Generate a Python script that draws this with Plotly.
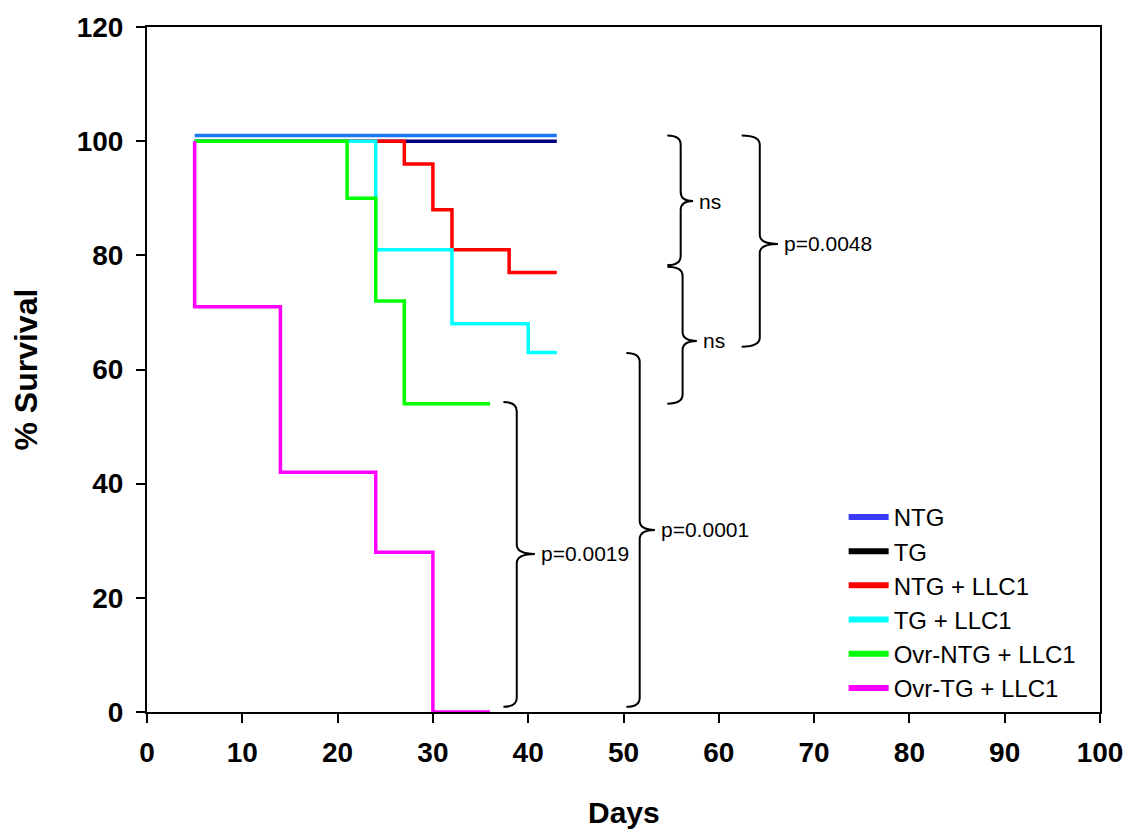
import plotly.graph_objects as go

# ---- data (step survival curves) ----
ntg_days = [5, 43]
ntg_surv = [101, 101]
tg_days = [5, 43]
tg_surv = [100, 100]
ntg_llc_days = [5, 27, 30, 32, 38, 43]
ntg_llc_surv = [100, 96, 88, 81, 77, 77]
tg_llc_days = [5, 24, 32, 40, 43]
tg_llc_surv = [100, 81, 68, 63, 63]
ovr_ntg_days = [5, 21, 24, 27, 36]
ovr_ntg_surv = [100, 90, 72, 54, 54]
ovr_tg_days = [5, 5, 14, 24, 30, 36]
ovr_tg_surv = [100, 71, 42, 28, 0, 0]

series_names = ["NTG", "TG", "NTG + LLC1", "TG + LLC1", "Ovr-NTG + LLC1", "Ovr-TG + LLC1"]
line_colors = ["#1a78f5", "#000080", "#ff0000", "#00ffff", "#00ff00", "#ff00ff"]
legend_colors = ["#3a3aff", "#000000", "#ff0000", "#00ffff", "#00ff00", "#ff00ff"]

# brackets: (y_top, y_bottom, x_end, x_vertical, x_tip, y_tip, label)
bracket_ytop = [101, 78, 101, 54.3, 62.9]
bracket_ybot = [78.3, 54, 64, 0.9, 0.9]
bracket_xend = [54.6, 54.6, 62.4, 37.4, 50.3]
bracket_xv = [56.0, 56.2, 64.3, 38.8, 51.7]
bracket_xtip = [57.3, 57.7, 66.2, 40.7, 53.3]
bracket_ytip = [89.5, 65.0, 82.0, 27.7, 31.9]
bracket_labels = ["ns", "ns", "p=0.0048", "p=0.0019", "p=0.0001"]

x_ticks = list(range(0, 101, 10))
y_ticks = list(range(0, 121, 20))

FONT = "Liberation Sans, Arial, sans-serif"

fig = go.Figure()

all_days = [ntg_days, tg_days, ntg_llc_days, tg_llc_days, ovr_ntg_days, ovr_tg_days]
all_surv = [ntg_surv, tg_surv, ntg_llc_surv, tg_llc_surv, ovr_ntg_surv, ovr_tg_surv]

draw_order = [1, 0, 2, 3, 4, 5]
for i in draw_order:
    fig.add_trace(go.Scatter(
        x=all_days[i], y=all_surv[i], mode="lines",
        line=dict(color=line_colors[i], width=3.5, shape="hv"),
        showlegend=False, hoverinfo="skip"))

for i, name in enumerate(series_names):
    fig.add_trace(go.Scatter(
        x=[None], y=[None], mode="lines", name=name,
        line=dict(color=legend_colors[i], width=6)))

r = 1.6
for yt, yb, xe, xv, xt, ym, lab in zip(bracket_ytop, bracket_ybot, bracket_xend,
                                       bracket_xv, bracket_xtip, bracket_ytip, bracket_labels):
    path = (f"M {xe},{yt} Q {xv},{yt} {xv},{yt - r} "
            f"L {xv},{ym + r} Q {xv},{ym} {xt},{ym} "
            f"Q {xv},{ym} {xv},{ym - r} "
            f"L {xv},{yb + r} Q {xv},{yb} {xe},{yb}")
    fig.add_shape(type="path", path=path, xref="x", yref="y",
                  line=dict(color="black", width=2))
    fig.add_annotation(x=xt, y=ym, text=lab, showarrow=False, xshift=4,
                       xanchor="left", yanchor="middle", xref="x", yref="y",
                       font=dict(family=FONT, size=21, color="black"))

# axis titles
fig.add_annotation(x=0.5, y=0, xref="paper", yref="paper", yshift=-100,
                   text="<b>Days</b>", showarrow=False, xanchor="center", yanchor="middle",
                   font=dict(family=FONT, size=30, color="black"))
fig.add_annotation(x=0, y=0.5, xref="paper", yref="paper", xshift=-122,
                   text="<b>% Survival</b>", showarrow=False, textangle=-90,
                   xanchor="center", yanchor="middle",
                   font=dict(family=FONT, size=32, color="black"))

fig.update_layout(
    width=1127, height=829,
    margin=dict(l=147, r=27, t=27, b=117, autoexpand=False),
    plot_bgcolor="white", paper_bgcolor="white",
    legend=dict(x=0.731, y=0.317, xanchor="left", yanchor="top",
                font=dict(family=FONT, size=24, color="black"),
                bgcolor="rgba(0,0,0,0)", tracegroupgap=0, itemwidth=40),
    xaxis=dict(range=[0, 100], tickvals=x_ticks, ticks="outside", ticklen=9,
               tickwidth=2, tickcolor="black", showline=True, linecolor="black",
               linewidth=2, mirror=True, showgrid=False, zeroline=False,
               automargin=False, ticklabelstandoff=5,
               tickfont=dict(family=FONT, size=28, color="black", weight="bold")),
    yaxis=dict(range=[0, 120], tickvals=y_ticks, ticks="outside", ticklen=9,
               tickwidth=2, tickcolor="black", showline=True, linecolor="black",
               linewidth=2, mirror=True, showgrid=False, zeroline=False,
               automargin=False, ticklabelstandoff=7,
               tickfont=dict(family=FONT, size=28, color="black", weight="bold")),
)

fig.write_html("out.html", config={"displayModeBar": False},
               post_script="document.body.style.margin='0';document.body.style.overflow='hidden';")
